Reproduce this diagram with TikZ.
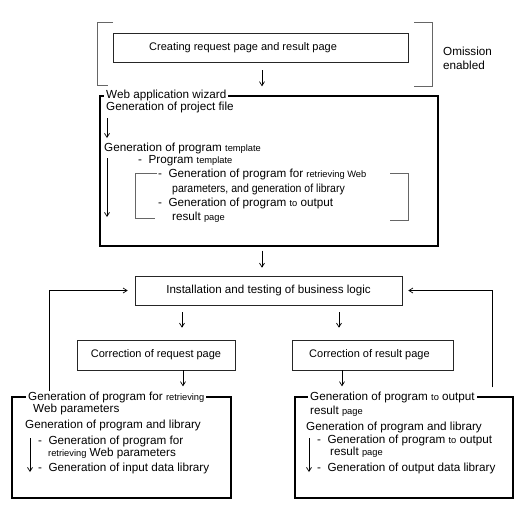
\documentclass[tikz,border=0pt]{standalone}
\usepackage{fontspec}
\setmainfont{Liberation Sans}
\usetikzlibrary{arrows.meta}
\newcommand\smf[1]{{\fontsize{9.3}{11}\selectfont #1}}
\tikzset{
  txt/.style={anchor=west, inner sep=0pt, font=\fontsize{11.7}{14}\selectfont},
  ttl/.style={anchor=west, inner xsep=2pt, inner ysep=0pt, fill=white, font=\fontsize{11.7}{14}\selectfont},
  boxtxt/.style={anchor=west, inner sep=0pt, font=\fontsize{11}{13}\selectfont},
  thinbox/.style={draw=black!85, line width=0.6pt, inner sep=0pt, font=\fontsize{11}{13}\selectfont},
  thickbox/.style={draw=black, line width=1.4pt, inner sep=0pt},
  brk/.style={draw=black!60, line width=0.6pt},
  arr/.style={-{Straight Barb[length=4pt,width=5pt]}, line width=0.7pt}
}
\begin{document}
\begin{tikzpicture}[x=1pt,y=-1pt]
\useasboundingbox (0,0) rectangle (528,520);
% top bracket group
\node[thinbox, minimum width=295pt, minimum height=29pt] (create) at (260.5,47.5) {};
\node[boxtxt] (createt) at (149,47.5) {Creating request page and result page};
\draw[brk] (113,22) -- (97,22) -- (97,85) -- (108,85);
\draw[brk] (414,22) -- (432,22) -- (432,86) -- (414,86);
\node[txt] (omit1) at (443,51) {Omission};
\node[txt] (omit2) at (443,65) {enabled};
% wizard box
\node[thickbox, minimum width=338pt, minimum height=150pt] (wiz) at (269,171) {};
\node[ttl] (wizt) at (104,95.5) {Web application wizard};
\node[txt] (w1) at (106,107.5) {Generation of project file};
\coordinate (wa1) at (107,118);
\coordinate (wa2) at (107,138);
\draw[arr] (wa1) -- (wa2);
\node[txt] (w2) at (104,148) {Generation of program \smf{template}};
\coordinate (wa3) at (107,158);
\coordinate (wa4) at (107,217);
\draw[arr] (wa3) -- (wa4);
\node[txt] (w3) at (138,161) {-\ \ Program \smf{template}};
\draw[brk] (157,173) -- (135,173) -- (135,218) -- (155,218);
\draw[brk] (390,173) -- (408,173) -- (408,220) -- (390,220);
\node[txt] (w4) at (158,174) {-\ \ Generation of program for \smf{retrieving Web}};
\node[txt] (w5) at (172,189) {\scalebox{0.9}[1]{parameters, and generation of library}};
\node[txt] (w6) at (158,203) {-\ \ Generation of program \smf{to} output};
\node[txt] (w7) at (172,217) {result \smf{page}};
% middle
\node[thinbox, minimum width=267pt, minimum height=29pt, font=\fontsize{11.6}{14}\selectfont] (inst) at (268.5,290.5) {Installation and testing of business logic};
\node[thinbox, minimum width=158pt, minimum height=30pt] (creq) at (156,355) {Correction of request page};
\node[thinbox, minimum width=161pt, minimum height=30pt] (cres) at (372.5,355) {};
\node[boxtxt] (crest) at (309,355) {Correction of result page};
% lower left
\node[thickbox, minimum width=219pt, minimum height=101pt] (ll) at (121.5,447.5) {};
\node[ttl] (llt) at (26,397) {Generation of program for \smf{retrieving}};
\node[txt] (l1) at (33,409) {Web parameters};
\node[txt] (l2) at (25,425) {Generation of program and library};
\node[txt] (l3) at (38,441) {-\ \ Generation of program for};
\node[txt] (l4) at (48,453) {\smf{retrieving} Web parameters};
\node[txt] (l5) at (38,468) {-\ \ Generation of input data library};
\coordinate (la1) at (30,438);
\coordinate (la2) at (30,472);
\draw[arr] (la1) -- (la2);
% lower right
\node[thickbox, minimum width=218pt, minimum height=101pt] (lr) at (404,447.5) {};
\node[ttl] (lrt) at (308,397) {Generation of program \smf{to} output};
\node[txt] (r1) at (310,411) {result \smf{page}};
\node[txt] (r2) at (306,427) {Generation of program and library};
\node[txt] (r3) at (317,440) {-\ \ Generation of program \smf{to} output};
\node[txt] (r4) at (330,452) {result \smf{page}};
\node[txt] (r5) at (317,468) {-\ \ Generation of output data library};
\coordinate (ra1) at (309,438);
\coordinate (ra2) at (309,472);
\draw[arr] (ra1) -- (ra2);
% connectors
\draw[arr] ([xshift=1.5pt,yshift=-8pt]create.south) -- ([xshift=-7pt,yshift=9pt]wiz.north);
\draw[arr] ([xshift=-7pt,yshift=-4pt]wiz.south) -- ([xshift=-6.5pt,yshift=8pt]inst.north);
\draw[arr] ([yshift=-7pt]inst.south -| creq.north) ++(26pt,0) -- ([xshift=26pt,yshift=12pt]creq.north);
\draw[arr] ([yshift=-7pt]inst.south -| cres.north) ++(-33.5pt,0) -- ([xshift=-33.5pt,yshift=12pt]cres.north);
\draw[arr] ([xshift=27pt]creq.south) -- ([xshift=61.5pt,yshift=10pt]ll.north);
\draw[arr] ([xshift=-30.5pt]cres.south) -- ([xshift=-62pt,yshift=10pt]lr.north);
\draw[arr] ([xshift=-72.5pt,yshift=5pt]ll.north) |- ([xshift=-7pt]inst.west);
\draw[arr] ([xshift=88pt,yshift=9pt]lr.north) |- ([xshift=6pt]inst.east);
\end{tikzpicture}
\end{document}
